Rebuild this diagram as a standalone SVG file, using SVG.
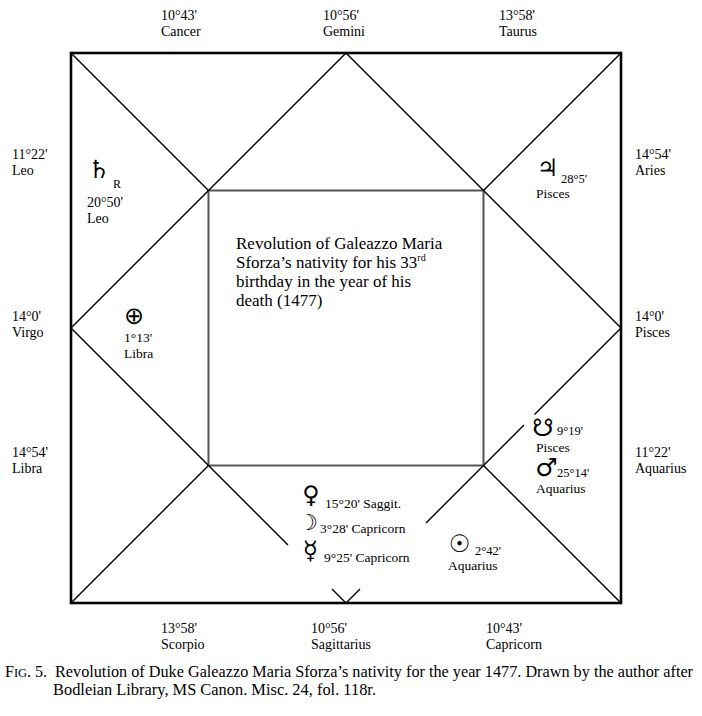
<svg xmlns="http://www.w3.org/2000/svg" width="702" height="716" viewBox="0 0 702 716">
<style>
text{font-family:"Liberation Serif","Times New Roman",serif;fill:#000;}
.lb{font-size:14px;}
.sm{font-size:12.5px;}
.md{font-size:13.5px;}
.ct{font-size:17px;}
.cap{font-size:16px;}
.sym{font-family:"DejaVu Sans",sans-serif;text-anchor:middle;}
.ln{stroke:#000;stroke-width:1.4;fill:none;}
</style>
<rect width="702" height="716" fill="#fff"/>
<g id="connectors">
<rect x="71" y="53" width="550" height="550" fill="none" stroke="#000" stroke-width="2.6"/>
<rect x="208.5" y="190.5" width="275" height="275" fill="none" stroke="#555" stroke-width="2"/>
<line class="ln" x1="71" y1="53" x2="208.5" y2="190.5"/>
<line class="ln" x1="621" y1="53" x2="483.5" y2="190.5"/>
<line class="ln" x1="71" y1="603" x2="208.5" y2="465.5"/>
<line class="ln" x1="621" y1="603" x2="483.5" y2="465.5"/>
<line class="ln" x1="346" y1="53" x2="71" y2="328"/>
<line class="ln" x1="346" y1="53" x2="621" y2="328"/>
<line class="ln" x1="71" y1="328" x2="288" y2="545"/>
<line class="ln" x1="621" y1="328" x2="534.5" y2="414.5"/>
<line class="ln" x1="524" y1="425" x2="426" y2="523"/>
<polyline class="ln" points="332,589 346,603 360,589"/>
</g>
<g id="cusp-cancer"><text class="lb" x="161" y="20">10°43'</text><text class="lb" x="161" y="36">Cancer</text></g>
<g id="cusp-gemini"><text class="lb" x="323" y="20">10°56'</text><text class="lb" x="323" y="36">Gemini</text></g>
<g id="cusp-taurus"><text class="lb" x="499" y="20">13°58'</text><text class="lb" x="499" y="36">Taurus</text></g>
<g id="cusp-leo"><text class="lb" x="12" y="159">11°22'</text><text class="lb" x="12" y="175">Leo</text></g>
<g id="cusp-virgo"><text class="lb" x="12" y="321">14°0'</text><text class="lb" x="12" y="337">Virgo</text></g>
<g id="cusp-libra"><text class="lb" x="12" y="457">14°54'</text><text class="lb" x="12" y="473">Libra</text></g>
<g id="cusp-aries"><text class="lb" x="635" y="159">14°54'</text><text class="lb" x="635" y="175">Aries</text></g>
<g id="cusp-pisces"><text class="lb" x="635" y="321">14°0'</text><text class="lb" x="635" y="337">Pisces</text></g>
<g id="cusp-aquarius"><text class="lb" x="635" y="457">11°22'</text><text class="lb" x="635" y="473">Aquarius</text></g>
<g id="cusp-scorpio"><text class="lb" x="161" y="633">13°58'</text><text class="lb" x="161" y="649">Scorpio</text></g>
<g id="cusp-sagittarius"><text class="lb" x="311" y="633">10°56'</text><text class="lb" x="311" y="649">Sagittarius</text></g>
<g id="cusp-capricorn"><text class="lb" x="486" y="633">10°43'</text><text class="lb" x="486" y="649">Capricorn</text></g>
<g id="saturn"><text class="sym" x="99" y="178" font-size="25">♄</text><text x="113" y="188" font-size="12">R</text><text class="lb" x="87" y="207">20°50'</text><text class="lb" x="87" y="223">Leo</text></g>
<g id="jupiter"><text class="sym" x="547.5" y="176" font-size="24">♃</text><text class="sm" x="561" y="183">28°5'</text><text class="md" x="536" y="198">Pisces</text></g>
<g id="fortune"><text class="sym" x="134" y="324" font-size="24">⊕</text><text class="md" x="124" y="342">1°13'</text><text class="md" x="124" y="358">Libra</text></g>
<g id="center-title"><text class="ct" x="236" y="249">Revolution of Galeazzo Maria</text><text class="ct" x="236" y="268">Sforza’s nativity for his 33<tspan font-size="10" dy="-7">rd</tspan></text><text class="ct" x="236" y="287">birthday in the year of his</text><text class="ct" x="236" y="306">death (1477)</text></g>
<g id="southnode"><text class="sym" x="543" y="436" font-size="24">☋</text><text class="sm" x="557" y="435">9°19'</text><text class="md" x="536" y="452">Pisces</text></g>
<g id="mars"><text class="sym" x="546.5" y="476" font-size="25">♂</text><text class="sm" x="557" y="477">25°14'</text><text class="md" x="536" y="493">Aquarius</text></g>
<g id="venus"><text class="sym" x="311" y="503" font-size="24">♀</text><text class="md" x="325" y="508">15°20' Saggit.</text></g>
<g id="moon"><text class="sym" x="308" y="530" font-size="22">☽</text><text class="md" x="320" y="533">3°28' Capricorn</text></g>
<g id="mercury"><text class="sym" x="310.5" y="559" font-size="25">☿</text><text class="md" x="324" y="562">9°25' Capricorn</text></g>
<g id="sun"><text class="sym" x="459.5" y="552" font-size="24">☉</text><text class="sm" x="475" y="555">2°42'</text><text class="md" x="448" y="570">Aquarius</text></g>
<g id="caption"><text class="cap" x="5" y="677">F<tspan font-size="12.5">IG</tspan>. 5.</text><text class="cap" x="55" y="677" textLength="638" lengthAdjust="spacingAndGlyphs">Revolution of Duke Galeazzo Maria Sforza’s nativity for the year 1477. Drawn by the author after</text><text class="cap" x="53" y="695" textLength="323" lengthAdjust="spacingAndGlyphs">Bodleian Library, MS Canon. Misc. 24, fol. 118r.</text></g>
</svg>
